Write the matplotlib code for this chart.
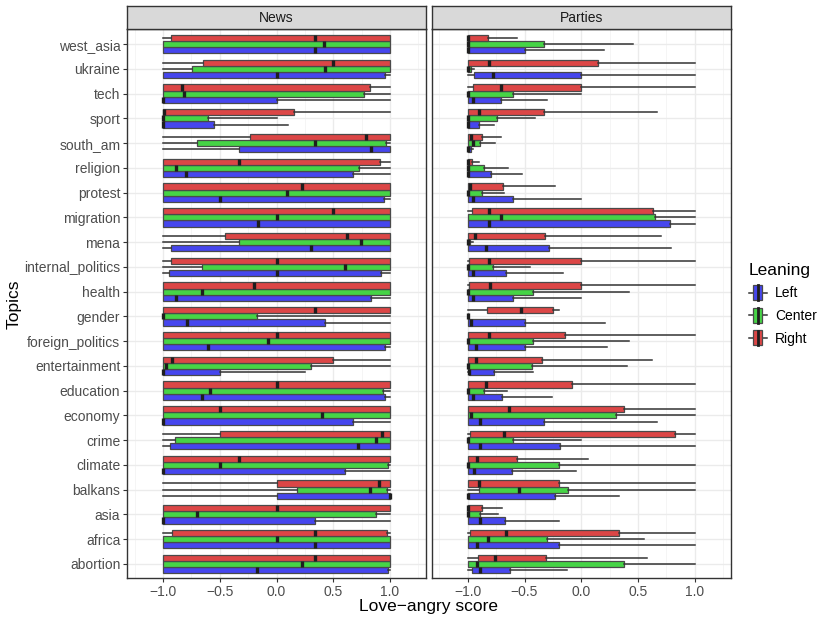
import numpy as np
import matplotlib
matplotlib.use("Agg")
import matplotlib.pyplot as plt
from matplotlib.legend_handler import HandlerBase
from matplotlib.patches import Rectangle, Patch
from matplotlib.lines import Line2D

plt.rcParams['font.family'] = ['Liberation Sans', 'DejaVu Sans']

topics = ["west_asia", "ukraine", "tech", "sport", "south_am", "religion", "protest",
          "migration", "mena", "internal_politics", "health", "gender", "foreign_politics",
          "entertainment", "education", "economy", "crime", "climate", "balkans", "asia",
          "africa", "abortion"]
leanings = ["Left", "Center", "Right"]
facets = ["News", "Parties"]

# (whisker low, q1, median, q3, whisker high) per topic
news_left = [(-1, -1, 0.335, 1, 1), (-1, -1, 0, 0.955, 1), (-1, -1, -1, 0, 1),
             (-1, -1, -1, -0.55, 0.105), (-1, -0.33, 0.835, 1, 1), (-1, -1, -0.795, 0.67, 1),
             (-1, -1, -0.5, 0.95, 1), (-1, -1, -0.165, 1, 1), (-1, -0.93, 0.3, 1, 1),
             (-1, -0.95, 0, 0.92, 1), (-1, -1, -0.89, 0.835, 1), (-1, -1, -0.79, 0.43, 1),
             (-1, -1, -0.6, 0.955, 1), (-1, -1, -1, -0.5, 0.25), (-1, -1, -0.66, 0.955, 1),
             (-1, -1, -1, 0.67, 1), (-1, -0.94, 0.715, 1, 1), (-1, -1, -1, 0.6, 1),
             (-1, 0, 1, 1, 1), (-1, -1, -1, 0.335, 1), (-1, -1, 0.335, 1, 1),
             (-1, -1, -0.175, 0.98, 1)]
news_center = [(-1, -1, 0.415, 1, 1), (-1, -0.745, 0.43, 1, 1), (-1, -1, -0.815, 0.77, 1),
               (-1, -1, -1, -0.6, 0), (-1, -0.7, 0.335, 0.96, 1), (-1, -1, -0.89, 0.725, 1),
               (-1, -1, 0.09, 1, 1), (-1, -1, 0, 1, 1), (-1, -0.33, 0.74, 1, 1),
               (-1, -0.66, 0.6, 1, 1), (-1, -1, -0.655, 1, 1), (-1, -1, -1, -0.17, 1),
               (-1, -1, -0.075, 1, 1), (-1, -1, -0.975, 0.3, 1), (-1, -1, -0.59, 0.94, 1),
               (-1, -1, 0.4, 1, 1), (-1, -0.895, 0.875, 1, 1), (-1, -1, -0.5, 0.98, 1),
               (-1, 0.18, 0.825, 0.975, 1), (-1, -1, -0.7, 0.875, 1), (-1, -1, 0, 1, 1),
               (-1, -1, 0.225, 1, 1)]
news_right = [(-1, -0.93, 0.335, 1, 1), (-1, -0.645, 0.5, 1, 1), (-1, -1, -0.83, 0.82, 1),
              (-1, -1, -0.99, 0.15, 1), (-1, -0.235, 0.785, 1, 1), (-1, -1, -0.33, 0.91, 1),
              (-1, -1, 0.22, 1, 1), (-1, -1, 0.5, 1, 1), (-1, -0.45, 0.625, 1, 1),
              (-1, -0.93, 0, 1, 1), (-1, -1, -0.2, 1, 1), (-1, -1, 0.335, 1, 1),
              (-1, -1, 0, 1, 1), (-1, -1, -0.925, 0.5, 1), (-1, -1, 0, 1, 1),
              (-1, -1, -0.5, 1, 1), (-1, -0.5, 0.925, 1, 1), (-1, -1, -0.33, 1, 1),
              (-1, 0, 0.905, 1, 1), (-1, -1, 0, 1, 1), (-1, -0.925, 0.335, 0.975, 1),
              (-1, -1, 0.335, 1, 1)]

parties_left = [(-1, -1, -1, -0.5, 0.2), (-1, -0.945, -0.775, 0, 1), (-1, -1, -0.955, -0.71, -0.3),
                (-1, -1, -1, -0.905, -0.77), (-1, -1, -1, -0.975, -0.95), (-1, -1, -1, -0.795, -0.525),
                (-1, -1, -0.955, -0.6, 0), (-1, -1, -0.81, 0.78, 1), (-1, -1, -0.84, -0.28, 0.79),
                (-1, -1, -0.955, -0.665, -0.165), (-1, -1, -0.955, -0.6, 0), (-1, -1, -0.975, -0.5, 0.21),
                (-1, -1, -0.93, -0.5, 0.23), (-1, -0.985, -0.985, -0.77, -0.425), (-1, -1, -0.95, -0.695, -0.26),
                (-1, -1, -0.89, -0.33, 0.665), (-1, -1, -0.89, -0.19, 1), (-1, -1, -0.945, -0.61, -0.045),
                (-1, -1, -1, -0.23, 0.33), (-1, -1, -0.89, -0.675, -0.2), (-1, -1, -0.92, -0.2, 1),
                (-1, -0.96, -0.89, -0.625, -0.125)]
parties_center = [(-1, -1, -1, -0.33, 0.455), (-1, -1, -1, -0.975, -0.945), (-1, -1, -1, -0.6, 0),
                  (-1, -1, -1, -0.74, -0.41), (-1, -1, -0.95, -0.895, -0.76), (-1, -1, -1, -0.855, -0.645),
                  (-1, -1, -1, -0.875, -0.68), (-1, -1, -0.71, 0.65, 1), (-1, -1, -1, -0.98, -0.955),
                  (-1, -1, -1, -0.775, -0.455), (-1, -1, -1, -0.425, 0.425), (-1, -1, -1, -1, -1),
                  (-1, -1, -1, -0.425, 0.425), (-1, -1, -1, -0.43, 0.405), (-1, -1, -1, -0.855, -0.65),
                  (-1, -1, -0.975, 0.31, 1), (-1, -1, -1, -0.6, 0), (-1, -1, -0.995, -0.2, 1),
                  (-1, -0.9, -0.545, -0.12, 1), (-1, -1, -1, -0.895, -0.735), (-1, -1, -0.825, -0.3, 0.555),
                  (-1, -1, -0.92, 0.375, 1)]
parties_right = [(-1, -1, -1, -0.82, -0.565), (-1, -1, -0.815, 0.145, 1), (-1, -0.95, -0.71, 0, 1),
                 (-1, -1, -0.905, -0.33, 0.665), (-1, -1, -0.975, -0.875, -0.71), (-1, -1, -1, -0.96, -0.905),
                 (-1, -1, -0.98, -0.69, -0.23), (-1, -0.965, -0.815, 0.635, 1), (-1, -1, -0.94, -0.32, 0.7),
                 (-1, -0.99, -0.815, 0, 1), (-1, -0.99, -0.8, 0, 1), (-1, -0.83, -0.535, -0.245, -0.2),
                 (-1, -1, -0.815, -0.14, 1), (-1, -1, -0.93, -0.35, 0.62), (-1, -1, -0.84, -0.08, 1),
                 (-1, -1, -0.64, 0.38, 1), (-1, -0.98, -0.68, 0.825, 1), (-1, -1, -0.92, -0.57, 0.06),
                 (-1, -1, -0.905, -0.2, 1), (-1, -1, -1, -0.875, -0.695), (-1, -0.98, -0.66, 0.33, 1),
                 (-1, -0.91, -0.76, -0.31, 0.575)]

data = {
    "News": [news_left, news_center, news_right],
    "Parties": [parties_left, parties_center, parties_right],
}

colors = ["#4646ee", "#46d446", "#dc4646"]
offsets = [-0.25, 0.0, 0.25]
edge = "#4a4a4a"
dark = "#333333"

W, H = 830, 623
fig = plt.figure(figsize=(8.3, 6.23), dpi=100)

panel_x = [127.3, 432.0]
panel_w = 298.5
panel_top, panel_bot = 29.3, 578.0
strip_top = 6.0

n = len(topics)
ypos = np.arange(n, 0, -1)

for k, facet in enumerate(facets):
    ax = fig.add_axes([panel_x[k] / W, 1 - panel_bot / H, panel_w / W, (panel_bot - panel_top) / H])
    for j in range(3):
        stats = []
        for wl, q1, med, q3, wh in data[facet][j]:
            stats.append(dict(whislo=wl, q1=q1, med=med, q3=q3, whishi=wh, fliers=[]))
        ax.bxp(stats, positions=ypos + offsets[j], widths=0.25, orientation='horizontal',
               patch_artist=True, showcaps=False, showfliers=False, manage_ticks=False,
               boxprops=dict(facecolor=colors[j], edgecolor=edge, linewidth=0.9),
               whiskerprops=dict(color=dark, linewidth=1.1),
               medianprops=dict(color="#1e1e1e", linewidth=2.4, solid_capstyle='butt'))
    ax.set_xlim(-1.315, 1.315)
    ax.set_ylim(0.43, n + 0.6)
    ax.set_xticks([-1, -0.5, 0, 0.5, 1])
    ax.set_xticklabels(["\u22121.0", "\u22120.5", "0.0", "0.5", "1.0"])
    ax.set_xticks([-1.25, -0.75, -0.25, 0.25, 0.75, 1.25], minor=True)
    ax.set_yticks(ypos)
    ax.grid(True, which='major', color='#ebebeb', linewidth=1.0)
    ax.grid(True, which='minor', axis='x', color='#f4f4f4', linewidth=0.6)
    ax.set_axisbelow(True)
    for s in ax.spines.values():
        s.set_color(dark)
        s.set_linewidth(1.0)
    ax.tick_params(axis='x', which='major', length=3, color=dark, labelcolor='#4d4d4d',
                   labelsize=10, pad=2)
    ax.tick_params(axis='x', which='minor', length=0)
    if k == 0:
        ax.set_yticklabels(topics)
        ax.tick_params(axis='y', length=3, color=dark, labelcolor='#4d4d4d', labelsize=10, pad=2)
    else:
        ax.set_yticklabels([])
        ax.tick_params(axis='y', length=0)

    sax = fig.add_axes([panel_x[k] / W, 1 - panel_top / H, panel_w / W, (panel_top - strip_top) / H])
    sax.set_facecolor('#d9d9d9')
    sax.set_xticks([])
    sax.set_yticks([])
    for s in sax.spines.values():
        s.set_color(dark)
        s.set_linewidth(1.0)
    sax.text(0.5, 0.47, facet, ha='center', va='center', fontsize=10, color='#1a1a1a',
             transform=sax.transAxes)

fig.text((panel_x[0] + panel_x[1] + panel_w) / 2 / W, 1 - 607 / H, "Love\u2212angry score",
         ha='center', va='center', fontsize=12.5, color='black')
fig.text(14 / W, 1 - 304 / H, "Topics", ha='center', va='center', rotation=90,
         fontsize=12.5, color='black')


class BoxKey(HandlerBase):
    def create_artists(self, legend, orig_handle, xdescent, ydescent, width, height, fontsize, trans):
        x0, y0 = -xdescent, -ydescent
        cy = y0 + height / 2
        whisk = Line2D([x0, x0 + width], [cy, cy], color=dark, linewidth=1.1, transform=trans)
        box = Rectangle((x0 + width * 0.25, y0), width * 0.5, height,
                        facecolor=orig_handle.get_facecolor(), edgecolor=edge, linewidth=0.9,
                        transform=trans)
        med = Line2D([x0 + width / 2, x0 + width / 2], [y0, y0 + height], color='#1e1e1e',
                     linewidth=2.0, transform=trans)
        return [whisk, box, med]


handles = [Patch(facecolor=c) for c in colors]
leg = fig.legend(handles, leanings, handler_map={Patch: BoxKey()}, title="Leaning",
                 loc='upper left', bbox_to_anchor=(743 / W, 1 - 257 / H), frameon=False,
                 fontsize=10, title_fontsize=12.5, handlelength=1.3, handleheight=1.25,
                 handletextpad=0.6, labelspacing=0.55, borderaxespad=0)
leg._legend_box.align = "left"

fig.savefig("out.png", dpi=100)
